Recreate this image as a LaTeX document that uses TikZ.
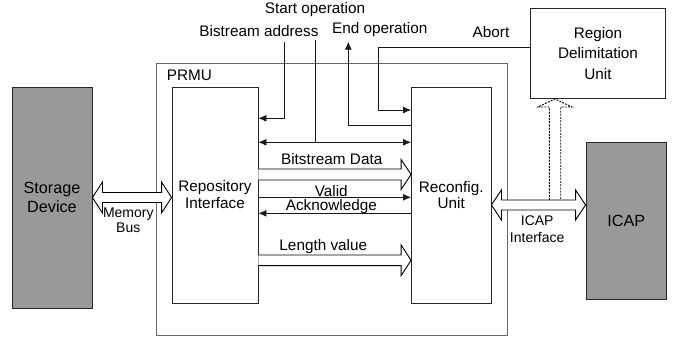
\documentclass[tikz,border=0pt]{standalone}
\usepackage{fontspec}
\setmainfont{Liberation Sans}
\usetikzlibrary{calc,arrows.meta}
\newcommand\hollowR[4]{%
  \draw[hollow] ($(#1)+(0,-#3)$) -- ($(#2)+(-10,-#3)$) -- ($(#2)+(-10,-#4)$) -- (#2)
    -- ($(#2)+(-10,#4)$) -- ($(#2)+(-10,#3)$) -- ($(#1)+(0,#3)$);}
\newcommand\hollowLR[4]{%
  \draw[hollow] (#1) -- ($(#1)+(10,-#4)$) -- ($(#1)+(10,-#3)$) -- ($(#2)+(-10,-#3)$)
    -- ($(#2)+(-10,-#4)$) -- (#2) -- ($(#2)+(-10,#4)$) -- ($(#2)+(-10,#3)$)
    -- ($(#1)+(10,#3)$) -- ($(#1)+(10,#4)$) -- cycle;}
\begin{document}
\begin{tikzpicture}[x=1pt,y=-1pt,
  box/.style={draw=black!85, line width=0.9pt, rectangle, inner sep=0pt, align=center,
    font=\fontsize{15.3}{19}\selectfont},
  gbox/.style={box, fill=black!40, font=\fontsize{16.2}{19}\selectfont},
  lbl/.style={inner sep=0pt, font=\fontsize{15.3}{19}\selectfont},
  slbl/.style={inner sep=0pt, align=center, font=\fontsize{14}{16}\selectfont},
  sig/.style={draw=black!90, line width=0.8pt},
  arr/.style={sig, -{Latex[length=8pt,width=7pt]}},
  darr/.style={sig, {Latex[length=8pt,width=7pt]}-{Latex[length=8pt,width=7pt]}},
  hollow/.style={draw=black, line width=0.9pt, fill=white, line join=miter},
  dhollow/.style={draw=black, line width=0.9pt, dash pattern=on 2pt off 1.2pt, line join=miter},
]
\useasboundingbox (0,0) rectangle (680,337);

% containers and blocks
\node[box, draw=black!60, minimum width=351pt, minimum height=272pt] (prmu) at (331.5,199) {};
\node[lbl, anchor=base west] (prmulbl) at (166.7,81) {PRMU};
\node[gbox, minimum width=80pt, minimum height=221pt] (sd) at (52,197.5) {Storage\\Device};
\node[box, minimum width=86pt, minimum height=216pt, font=\fontsize{15.3}{17}\selectfont] (rep) at (215,195) {Repository\\Interface};
\node[box, minimum width=79.5pt, minimum height=216pt, font=\fontsize{15.3}{16.7}\selectfont] (rec) at (451.25,195) {Reconfig.\\Unit};
\node[box, minimum width=135pt, minimum height=90pt, font=\fontsize{15.3}{20.3}\selectfont] (rdu) at (598,53.5) {Region\\Delimitation\\Unit};
\node[gbox, minimum width=80.5pt, minimum height=157pt] (icap) at (626.25,220.5) {ICAP};

% Bistream address
\coordinate (ba) at (284.3,42.3);
\draw[arr] (ba) |- (rep.east |- 0,118.3);
\node[lbl, anchor=base] (balbl) at (259,36.7) {Bistream address};

% Start operation
\coordinate (so) at (315.7,40);
\coordinate (sj) at (315.7,142.3);
\draw[sig] (so) -- (sj);
\draw[darr] (rep.east |- sj) -- (rec.west |- sj);
\node[lbl, anchor=base] (solbl) at (315,14) {Start operation};

% End operation
\coordinate (eo) at (348.3,41.7);
\draw[arr] (rec.west |- 0,125.7) -| (eo);
\node[lbl, anchor=base] (eolbl) at (379.7,33.3) {End operation};

% Abort
\coordinate (ab) at (378.7,110);
\draw[arr] (rdu.west |- 0,47.7) -| (ab) -- (rec.west |- ab);
\node[lbl, anchor=base] (ablbl) at (491,37.7) {Abort};

% Bitstream Data
\coordinate (bdL) at (rep.east |- 0,174.5);
\coordinate (bdR) at (rec.west |- 0,174.5);
\hollowR{bdL}{bdR}{5.5}{15}
\node[lbl, anchor=base] (bdlbl) at (331.7,164) {Bitstream Data};

% Valid / Acknowledge
\draw[arr] (rep.east |- 0,197.3) -- (rec.west |- 0,197.3);
\node[lbl, anchor=base] (vlbl) at (331.3,196.2) {Valid};
\draw[arr] (rec.west |- 0,213.3) -- (rep.east |- 0,213.3);
\node[lbl, anchor=base] (aklbl) at (331.3,210.7) {Acknowledge};

% Length value
\coordinate (lvL) at (rep.east |- 0,260.3);
\coordinate (lvR) at (rec.west |- 0,260.3);
\hollowR{lvL}{lvR}{5.3}{15.5}
\node[lbl, anchor=base] (lvlbl) at (323.3,250) {Length value};

% Memory bus
\coordinate (mbL) at (sd.east |- 0,197.5);
\coordinate (mbR) at (rep.west |- 0,197.5);
\hollowLR{mbL}{mbR}{5}{15.5}
\node[slbl, font=\fontsize{14}{15}\selectfont] (mblbl) at (128.3,219.8) {Memory\\Bus};

% Dashed arrow to region delimitation unit
\coordinate (dB) at (555,200);
\coordinate (dT) at (rdu.south -| 555,0);
\draw[dhollow] ($(dB)+(-5.7,0)$) -- ($(dT)+(-5.7,8)$) -- ($(dT)+(-17,8)$) -- (dT)
  -- ($(dT)+(17,8)$) -- ($(dT)+(5.7,8)$) -- ($(dB)+(5.7,0)$);

% ICAP interface
\coordinate (iiL) at (rec.east |- 0,205);
\coordinate (iiR) at (icap.west |- 0,205);
\hollowLR{iiL}{iiR}{5}{15}
\node[slbl, font=\fontsize{14}{16.7}\selectfont] (iilbl) at (537.2,229.5) {ICAP\\Interface};
\end{tikzpicture}
\end{document}
